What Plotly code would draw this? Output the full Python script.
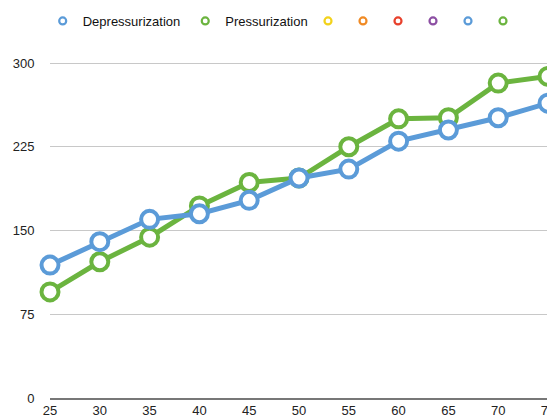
import plotly.graph_objects as go

x_vals = [25, 30, 35, 40, 45, 50, 55, 60, 65, 70, 75]
depressurization = [119, 140, 160, 165, 177, 197, 205, 230, 240, 251, 264]
pressurization = [95, 122, 144, 172, 193, 197, 225, 250, 251, 282, 288]
y_ticks = [0, 75, 150, 225, 300]

series_names = ["Depressurization", "Pressurization", " ", " ", " ", " ", " ", " "]
series_colors = ["#5B9BD8", "#6BB43F", "#F2D21B", "#F08A24", "#E8412C", "#8C4FA3", "#5B9BD8", "#6BB43F"]

W, H = 547, 408  # page body margin adds ~8px offset in the 555x416 window

fig = go.Figure()
for name, vals, col in [(series_names[1], pressurization, series_colors[1]),
                        (series_names[0], depressurization, series_colors[0])]:
    fig.add_trace(go.Scatter(
        x=x_vals, y=vals, mode="lines+markers", showlegend=False,
        line=dict(color=col, width=5),
        marker=dict(symbol="circle", size=17, color="white", line=dict(color=col, width=4)),
        cliponaxis=False,
    ))

legend_ids = ["legend", "legend", "legend2", "legend3", "legend4", "legend5", "legend6", "legend7"]
for name, col, lg in zip(series_names, series_colors, legend_ids):
    fig.add_trace(go.Scatter(
        x=[None], y=[None], mode="markers", name=name, legend=lg,
        marker=dict(symbol="circle", size=7, color="white", line=dict(color=col, width=2.2)),
    ))

legend_common = dict(orientation="h", xref="container", yref="container", y=1 - 13 / H,
                     yanchor="middle", xanchor="left", font=dict(size=13, color="#111"),
                     itemwidth=30, bgcolor="rgba(0,0,0,0)")
layout_legends = {"legend": dict(legend_common, x=34.7 / W, traceorder="normal")}
for i, lg in enumerate(legend_ids[2:]):
    layout_legends[lg] = dict(legend_common, x=(300 + 35 * i) / W)

fig.update_layout(
    width=W, height=H,
    margin=dict(l=42, r=7, t=32, b=18, autoexpand=False),
    paper_bgcolor="white", plot_bgcolor="white",
    font=dict(family="Liberation Sans, Arial, sans-serif", size=13, color="#222"),
    xaxis=dict(range=[25, 75], tickvals=x_vals, showgrid=False, zeroline=False,
               showline=True, linecolor="#777", linewidth=1.5, ticks="",
               automargin=False, ticklabeloverflow="allow"),
    yaxis=dict(range=[0, 320.6], tickvals=y_ticks, showgrid=True, gridcolor="#c8c8c8",
               gridwidth=1, zeroline=False, showline=False, automargin=False,
               ticks="outside", ticklen=12, tickcolor="rgba(0,0,0,0)"),
    **layout_legends,
)

fig.write_html("out.html")
